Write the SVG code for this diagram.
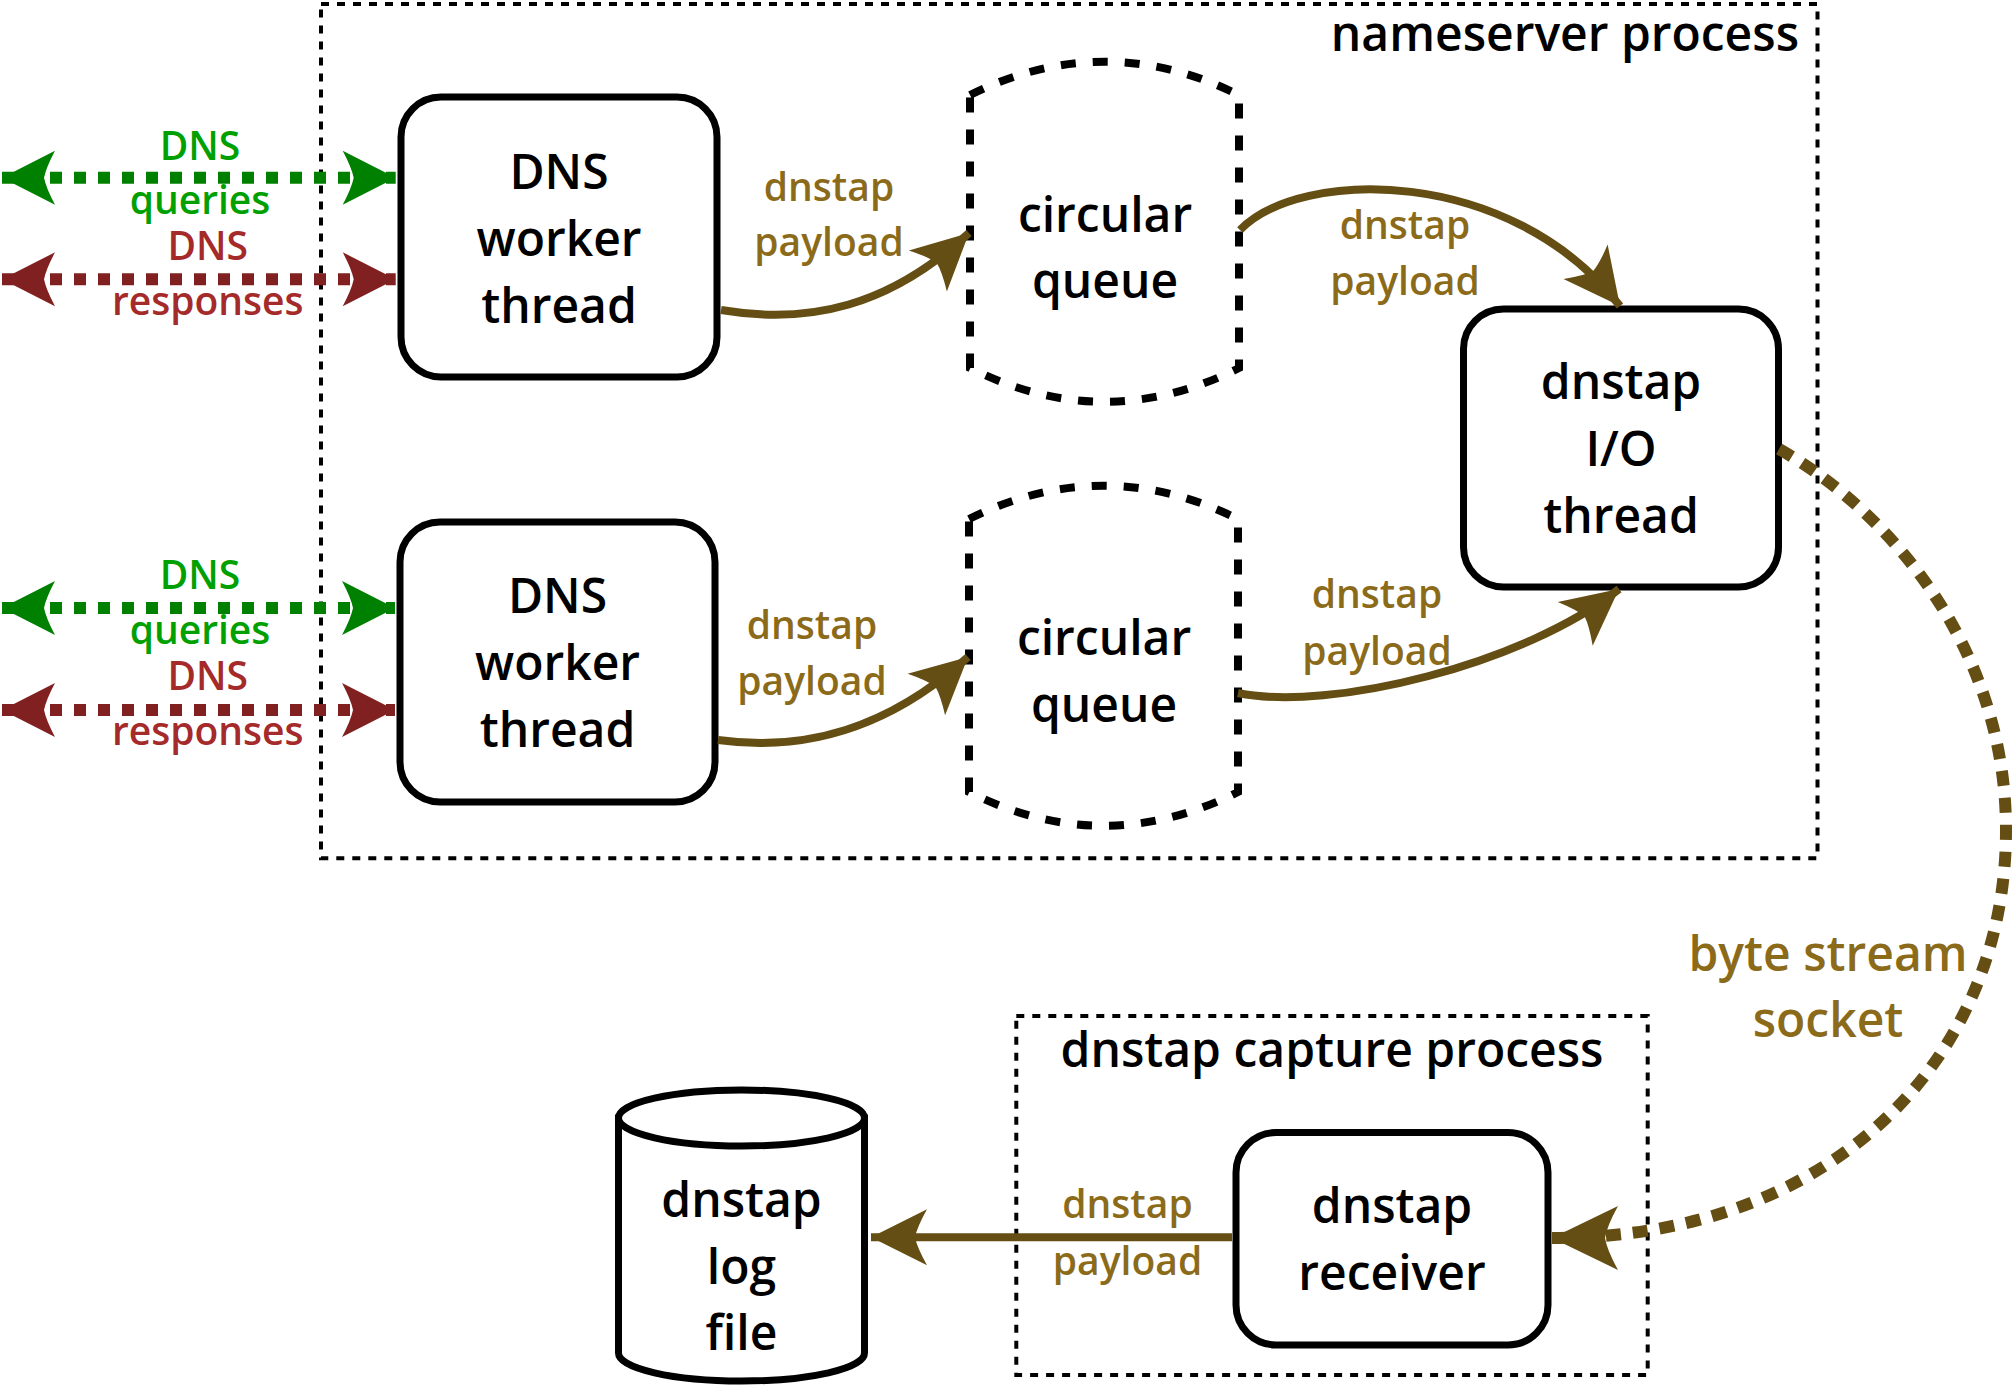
<svg xmlns="http://www.w3.org/2000/svg" width="2014" height="1388" viewBox="0 0 2014 1388">
  <style>
    text { font-family: "Open Sans", "Noto Sans", sans-serif; font-weight: 600; text-anchor: middle; }
    .node { font-size: 48px; fill: #000; }
    .lbl { font-size: 39px; fill: #8b6b1a; }
    .big { font-size: 48px; fill: #8b6b1a; }
    .gtxt { font-size: 39px; fill: #00a000; }
    .rtxt { font-size: 39px; fill: #a52a2a; }
    .box { fill: #fff; stroke: #000; stroke-width: 7; }
    .queue { fill: #fff; stroke: #000; stroke-width: 8; stroke-dasharray: 15 17; }
    .proc { fill: none; stroke: #000; stroke-width: 4; stroke-dasharray: 8 8; }
    .solid { fill: none; stroke: #654e13; stroke-width: 8; marker-end: url(#ah-brown); }
    .dotbrown { fill: none; stroke: #654e13; stroke-width: 12; stroke-dasharray: 15 12; marker-end: url(#ah-brown-big); }
    .green { fill: none; stroke: #008000; stroke-width: 12; stroke-dasharray: 12 12; marker-start: url(#ah-green); marker-end: url(#ah-green); }
    .red { fill: none; stroke: #802020; stroke-width: 12; stroke-dasharray: 12 12; marker-start: url(#ah-red); marker-end: url(#ah-red); }
  </style>
  <defs>
    <marker id="ah-green" markerUnits="userSpaceOnUse" orient="auto-start-reverse" overflow="visible" refX="0" refY="0" markerWidth="1" markerHeight="1">
      <path d="M0,0 L-53,-27 Q-44,-10 -42,0 Q-44,10 -53,27 Z" fill="#008000"/>
    </marker>
    <marker id="ah-red" markerUnits="userSpaceOnUse" orient="auto-start-reverse" overflow="visible" refX="0" refY="0" markerWidth="1" markerHeight="1">
      <path d="M0,0 L-53,-27 Q-44,-10 -42,0 Q-44,10 -53,27 Z" fill="#802020"/>
    </marker>
    <marker id="ah-brown" markerUnits="userSpaceOnUse" orient="auto" overflow="visible" refX="0" refY="0" markerWidth="1" markerHeight="1">
      <path d="M0,0 L-56,-28 Q-46,-10 -44,0 Q-46,10 -56,28 Z" fill="#654e13"/>
    </marker>
    <marker id="ah-brown-big" markerUnits="userSpaceOnUse" orient="auto" overflow="visible" refX="0" refY="0" markerWidth="1" markerHeight="1">
      <path d="M0,0 L-66,-32 Q-55,-12 -53,0 Q-55,12 -66,32 Z" fill="#654e13"/>
    </marker>
  </defs>

  <g id="nameserver-process">
    <rect class="proc" x="321" y="4" width="1496.5" height="854.3"/>
    <text class="node" x="1799" y="51" style="text-anchor:end">nameserver process</text>
  </g>

  <g id="capture-process">
    <rect class="proc" x="1016.3" y="1016" width="631.4" height="359"/>
    <text class="node" x="1332" y="1067">dnstap capture process</text>
  </g>

  <g id="worker1">
    <rect class="box" x="401" y="97" width="316" height="280" rx="40"/>
    <text class="node" x="559" y="189">DNS</text>
    <text class="node" x="559" y="256">worker</text>
    <text class="node" x="559" y="323">thread</text>
  </g>

  <g id="worker2">
    <rect class="box" x="400" y="522" width="315" height="280" rx="40"/>
    <text class="node" x="557.5" y="613">DNS</text>
    <text class="node" x="557.5" y="680">worker</text>
    <text class="node" x="557.5" y="747">thread</text>
  </g>

  <g id="queue1">
    <path class="queue" d="M970,95 Q1104.5,28.4 1239,95 L1239,368 Q1104.5,435.4 970,368 Z"/>
    <text class="node" x="1105" y="232">circular</text>
    <text class="node" x="1105" y="298">queue</text>
  </g>

  <g id="queue2">
    <path class="queue" d="M969,519 Q1103.5,452.4 1238,519 L1238,792 Q1103.5,859.4 969,792 Z"/>
    <text class="node" x="1104" y="655">circular</text>
    <text class="node" x="1104" y="722">queue</text>
  </g>

  <g id="io-thread">
    <rect class="box" x="1463.5" y="309" width="315" height="278" rx="40"/>
    <text class="node" x="1621" y="399">dnstap</text>
    <text class="node" x="1621" y="466">I/O</text>
    <text class="node" x="1621" y="533">thread</text>
  </g>

  <g id="receiver">
    <rect class="box" x="1236" y="1132.5" width="312" height="212.5" rx="40"/>
    <text class="node" x="1392" y="1223">dnstap</text>
    <text class="node" x="1392" y="1290">receiver</text>
  </g>

  <g id="log-file">
    <path class="box" d="M618.5,1118 V1353 A123,28 0 0 0 864.5,1353 V1118 Z"/>
    <ellipse class="box" cx="741.5" cy="1118" rx="123" ry="28"/>
    <text class="node" x="741.5" y="1217">dnstap</text>
    <text class="node" x="741.5" y="1284">log</text>
    <text class="node" x="741.5" y="1350">file</text>
  </g>

  <g id="connectors">
    <path class="green" d="M2,177.7 H395.7"/>
    <path class="red" d="M2,279.3 H395.7"/>
    <path class="green" d="M2,608 H395"/>
    <path class="red" d="M2,710 H395"/>

    <path class="solid" d="M721,310 C810,325 890,306 969,233"/>
    <path class="solid" d="M718,740 C805,752 888,729 968,657"/>
    <path class="solid" d="M1240,230 C1300,168 1510,165 1620,306"/>
    <path class="solid" d="M1238,693 C1330,712 1525,664 1619,589"/>
    <path class="solid" d="M1232,1237.3 H871"/>

    <path class="dotbrown" d="M1779,449 C1892,513 2006,650 2006,830 C2006,1060 1832,1238 1552,1238"/>
  </g>

  <g id="labels">
    <text class="gtxt" x="200" y="160">DNS</text>
    <text class="gtxt" x="200" y="214">queries</text>
    <text class="rtxt" x="207.7" y="260">DNS</text>
    <text class="rtxt" x="207.7" y="315">responses</text>

    <text class="gtxt" x="200" y="589">DNS</text>
    <text class="gtxt" x="200" y="644">queries</text>
    <text class="rtxt" x="207.7" y="690">DNS</text>
    <text class="rtxt" x="207.7" y="745">responses</text>

    <text class="lbl" x="829" y="201">dnstap</text>
    <text class="lbl" x="829" y="256">payload</text>
    <text class="lbl" x="812" y="639">dnstap</text>
    <text class="lbl" x="812" y="695">payload</text>
    <text class="lbl" x="1405" y="239">dnstap</text>
    <text class="lbl" x="1405" y="295">payload</text>
    <text class="lbl" x="1377" y="608">dnstap</text>
    <text class="lbl" x="1377" y="665">payload</text>
    <text class="lbl" x="1127.5" y="1218">dnstap</text>
    <text class="lbl" x="1127.5" y="1275">payload</text>

    <text class="big" x="1828" y="971">byte stream</text>
    <text class="big" x="1828" y="1037">socket</text>
  </g>
</svg>
